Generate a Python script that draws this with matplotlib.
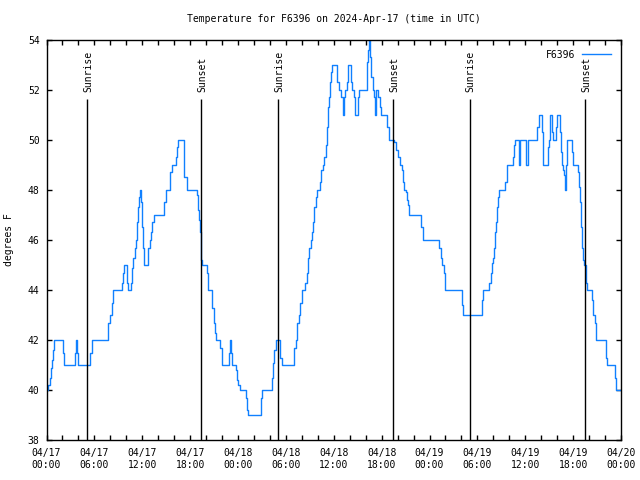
import numpy as np
import matplotlib
matplotlib.use('Agg')
import matplotlib.pyplot as plt
from matplotlib.ticker import MultipleLocator, FuncFormatter

plt.rcParams['font.family'] = ['DejaVu Sans Mono']
plt.rcParams['font.size'] = 7

# Hours since 2024-04-17 00:00 UTC and temperature (degF)
hours = [0.10, 0.23, 0.48, 0.61, 0.73, 0.86, 0.98, 2.03, 2.19, 3.53, 3.66, 3.78, 3.99,
         5.45, 5.66, 7.75, 7.96, 8.17, 8.37, 9.50, 9.63, 9.75, 10.09, 10.25, 10.55, 10.71,
         10.88, 11.05, 11.17, 11.30, 11.42, 11.55, 11.68, 11.84, 11.97, 12.09, 12.26,
         12.76, 12.97, 13.14, 13.26, 13.43, 14.77, 14.93, 15.52, 15.69, 16.23, 16.39,
         16.52, 17.27, 17.56, 18.82, 18.94, 19.07, 19.19, 19.32, 19.40, 19.49,
         20.07, 20.20, 20.28, 20.78, 20.95, 21.12, 21.28, 21.78, 21.95, 22.83, 22.95,
         23.08, 23.20, 23.75, 23.91, 24.04, 24.21, 25.00, 25.17, 25.29, 26.84, 27.01,
         28.30, 28.43, 28.55, 28.72, 29.26, 29.47, 31.06, 31.27, 31.43, 31.60, 31.77,
         32.06, 32.43, 32.60, 32.77, 32.94, 33.10, 33.31, 33.44, 33.56, 33.73, 33.86,
         34.27, 34.44, 34.61, 34.82, 34.98, 35.03, 35.11, 35.23, 35.40, 35.53, 35.65,
         35.82, 36.45, 36.65, 36.86, 37.11, 37.28, 37.45, 37.61, 37.82, 38.16, 38.32,
         38.49, 38.66, 38.99, 39.16, 40.12, 40.29, 40.41, 40.54, 40.71, 40.87, 41.04,
         41.17, 41.29, 41.58, 41.79, 41.96, 42.71, 42.88, 43.55, 43.80, 44.09, 44.30,
         44.51, 44.63, 44.80, 45.01, 45.13, 45.26, 45.38, 45.47, 46.93, 47.14, 49.23,
         49.39, 49.60, 49.77, 49.94, 52.03, 52.19, 54.53, 54.74, 55.49, 55.66, 55.83,
         56.00, 56.12, 56.25, 56.37, 56.50, 56.62, 56.75, 57.50, 57.67, 58.50, 58.63,
         58.75, 59.17, 59.38, 60.09, 60.34, 61.51, 61.68, 62.05, 62.18, 62.80, 62.93,
         63.10, 63.35, 63.47, 63.80, 64.02, 64.31, 64.43, 64.56, 64.72, 64.85, 64.97,
         65.10, 65.18, 65.27, 65.85, 66.02, 66.56, 66.69, 66.81, 66.94, 67.06, 67.19,
         67.31, 67.61, 67.73, 68.32, 68.48, 68.69, 68.90, 70.07, 70.28, 71.24, 71.41,
         72.00]
temp_f = [40.0, 40.2, 40.5, 40.9, 41.2, 41.6, 42.0, 41.5, 41.0, 41.5, 42.0, 41.5, 41.0,
          41.5, 42.0, 42.7, 43.0, 43.5, 44.0, 44.3, 44.7, 45.0, 44.3, 44.0, 44.3, 44.9,
          45.3, 45.7, 46.0, 46.7, 47.3, 47.7, 48.0, 47.5, 46.5, 45.7, 45.0,
          45.7, 46.0, 46.3, 46.7, 47.0, 47.5, 48.0, 48.7, 49.0, 49.3, 49.7,
          50.0, 48.5, 48.0, 47.8, 47.2, 46.8, 46.3, 45.8, 45.2, 45.0,
          44.7, 44.3, 44.0, 43.3, 42.7, 42.3, 42.0, 41.7, 41.0, 41.5, 42.0,
          41.5, 41.0, 40.8, 40.4, 40.2, 40.0, 39.7, 39.2, 39.0, 39.7, 40.0,
          40.5, 41.1, 41.6, 42.0, 41.3, 41.0, 41.7, 42.0, 42.7, 43.0, 43.5,
          44.0, 44.3, 44.7, 45.3, 45.7, 46.0, 46.3, 46.7, 47.3, 47.7, 48.0,
          48.3, 48.8, 49.0, 49.3, 49.6, 49.8, 50.5, 51.3, 51.7, 52.3, 52.7,
          53.0, 52.3, 52.0, 51.7, 51.0, 51.7, 52.0, 52.3, 53.0, 52.3, 52.0,
          51.7, 51.0, 51.7, 52.0, 53.1, 53.6, 54.0, 53.3, 52.5, 52.0, 51.7,
          51.0, 52.0, 51.7, 51.3, 51.0, 50.5, 50.0, 49.9, 49.6, 49.3, 49.0,
          48.8, 48.3, 48.0, 47.9, 47.6, 47.4, 47.2, 47.0, 46.5, 46.0, 45.7,
          45.3, 45.0, 44.7, 44.0, 43.4, 43.0, 43.6, 44.0, 44.3, 44.7, 45.1,
          45.3, 45.7, 46.3, 46.7, 47.3, 47.7, 48.0, 48.3, 49.0, 49.3, 49.8,
          50.0, 49.0, 50.0, 49.0, 50.0, 50.5, 51.0, 50.3, 49.0, 49.7, 50.0,
          51.0, 50.3, 50.0, 50.5, 51.0, 50.3, 49.5, 49.0, 48.8, 48.6, 48.0,
          49.0, 49.5, 50.0, 49.5, 49.0, 48.7, 48.1, 47.5, 46.5, 45.7, 45.2,
          45.0, 44.3, 44.0, 43.6, 43.0, 42.7, 42.0, 41.3, 41.0, 40.5, 40.0,
          40.0]

sunrise_h = [5.11, 29.05, 53.03]
sunset_h = [19.40, 43.46, 67.52]
station = 'F6396'
start_day = 17

fig = plt.figure(figsize=(6.4, 4.8), dpi=100)
ax = fig.add_axes([0.0727, 0.0833, 0.8976, 0.8334])

ax.plot(hours, temp_f, drawstyle='steps-post', color='#1080ff', lw=1.0, label=station)

# Sunrise / sunset markers #
for h in sunrise_h:
    ax.vlines(h, 38, 51.64, color='black', lw=1.0)
    ax.text(h + 0.15, 51.9, 'Sunrise', rotation=90, ha='center', va='bottom')
for h in sunset_h:
    ax.vlines(h, 38, 51.64, color='black', lw=1.0)
    ax.text(h + 0.15, 51.9, 'Sunset', rotation=90, ha='center', va='bottom')

ax.set_xlim(0, 72)
ax.set_ylim(38, 54)
ax.xaxis.set_major_locator(MultipleLocator(6))
ax.xaxis.set_minor_locator(MultipleLocator(2))
ax.yaxis.set_major_locator(MultipleLocator(2))

def fmt_time(h, pos):
    d = start_day + int(h // 24)
    hh = int(round(h % 24))
    return '04/%02d\n%02d:00' % (d, hh)
ax.xaxis.set_major_formatter(FuncFormatter(fmt_time))

ax.tick_params(which='both', direction='in', top=True, right=True, width=1.0)
ax.tick_params(which='major', length=3.5)
ax.tick_params(which='minor', length=3.5)
ax.tick_params(axis='x', pad=6)
ax.tick_params(axis='y', pad=5)
for s in ax.spines.values():
    s.set_linewidth(1.0)

ax.set_ylabel('degrees F', labelpad=10)
ax.set_title('Temperature for %s on 2024-Apr-17 (time in UTC)' % station, fontsize=7, pad=13)
ax.legend(loc='upper right', frameon=False, markerfirst=False, handlelength=3.0,
          handletextpad=0.7, borderaxespad=0.6)

fig.savefig('out.png', dpi=100)
